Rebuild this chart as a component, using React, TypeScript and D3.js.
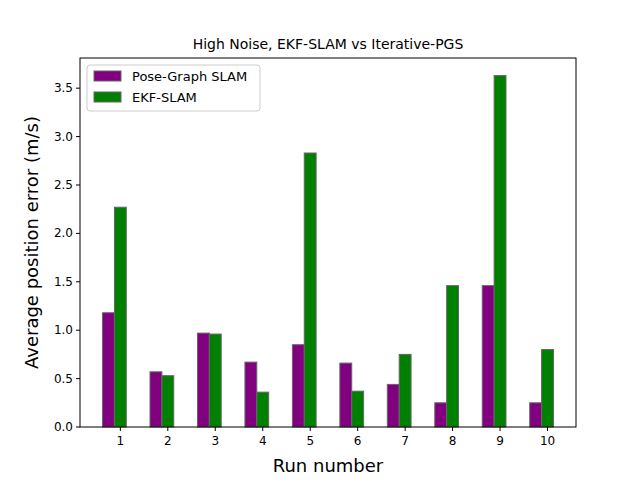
import * as d3 from "d3";

const runs = [1, 2, 3, 4, 5, 6, 7, 8, 9, 10];
const pgsValues = [1.18, 0.57, 0.97, 0.67, 0.85, 0.66, 0.44, 0.25, 1.46, 0.25];
const ekfValues = [2.27, 0.53, 0.96, 0.36, 2.83, 0.37, 0.75, 1.46, 3.63, 0.8];
const yTicks = [0, 0.5, 1, 1.5, 2, 2.5, 3, 3.5];
const seriesNames = ["Pose-Graph SLAM", "EKF-SLAM"];
const colors = ["purple", "green"];

const W = 640, H = 480;
const L = 80, R = 576, T = 58, B = 427;
const barW = 0.25;

const App = () => {
  const x = d3.scaleLinear().domain([0.15, 10.6]).range([L, R]);
  const y = d3.scaleLinear().domain([0, 3.8115]).range([B, T]);
  const font = "DejaVu Sans, sans-serif";
  const series = [pgsValues, ekfValues];
  const offsets = [-barW, 0];

  return (
    <svg width={W} height={H} style={{ position: "absolute", left: 0, top: 0, background: "white" }} fontFamily={font}>
      {series.map((vals, s) =>
        vals.map((v, i) => (
          <rect key={`${s}-${i}`} x={x(runs[i] + offsets[s] - barW / 2)} y={y(v)}
            width={x(barW) - x(0)} height={y(0) - y(v)} fill={colors[s]} stroke="#666" strokeWidth={1} />
        ))
      )}
      <rect x={L} y={T} width={R - L} height={B - T} fill="none" stroke="black" strokeWidth={1} />
      {runs.map((r) => (
        <g key={r}>
          <line x1={x(r)} x2={x(r)} y1={B} y2={B + 4} stroke="black" />
          <text x={x(r)} y={B + 18} fontSize={12} textAnchor="middle">{r}</text>
        </g>
      ))}
      {yTicks.map((t) => (
        <g key={t}>
          <line x1={L - 4} x2={L} y1={y(t)} y2={y(t)} stroke="black" />
          <text x={L - 7} y={y(t) + 4} fontSize={12} textAnchor="end">{t.toFixed(1)}</text>
        </g>
      ))}
      <text x={(L + R) / 2} y={472} fontSize={18} textAnchor="middle">Run number</text>
      <text transform={`translate(38,${(T + B) / 2}) rotate(-90)`} fontSize={18} textAnchor="middle">Average position error (m/s)</text>
      <text x={(L + R) / 2} y={49} fontSize={14} textAnchor="middle">High Noise, EKF-SLAM vs Iterative-PGS</text>
      <g>
        <rect x={87} y={65} width={173} height={46} rx={3} fill="white" stroke="#ccc" />
        {seriesNames.map((n, i) => (
          <g key={n}>
            <rect x={94} y={71 + i * 21} width={27} height={10} fill={colors[i]} stroke="#666" />
            <text x={132} y={81 + i * 21} fontSize={13}>{n}</text>
          </g>
        ))}
      </g>
    </svg>
  );
};

export default App;
